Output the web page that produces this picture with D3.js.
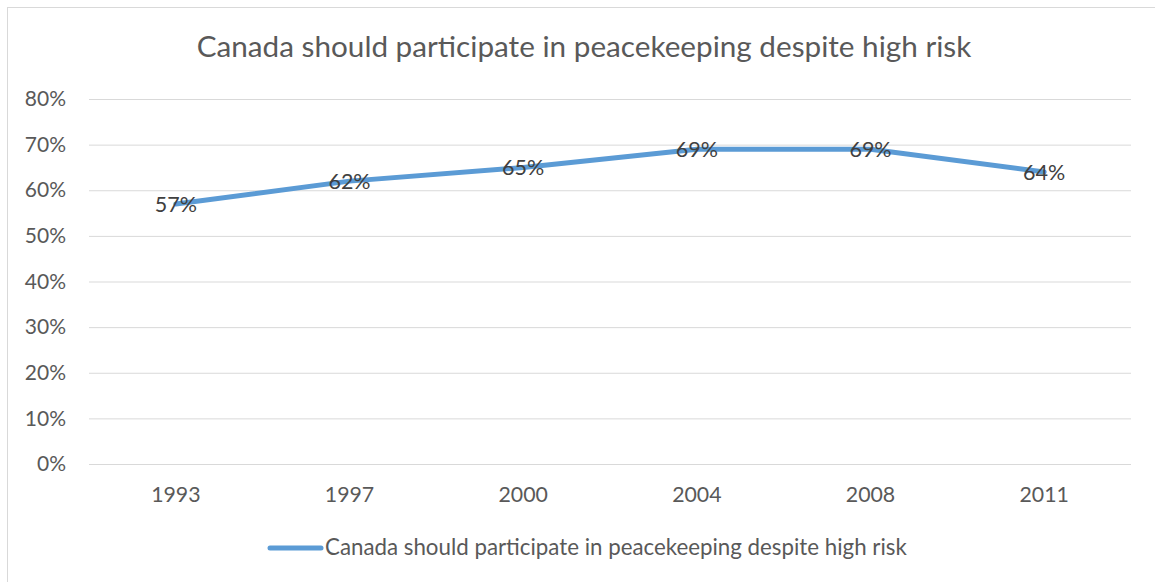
<!DOCTYPE html>
<html>
<head>
<meta charset="utf-8">
<script src="https://cdn.jsdelivr.net/npm/d3@7"></script>
<style>
  html, body { margin: 0; padding: 0; background: #fff; }
  svg { display: block; font-family: Lato, "Open Sans", sans-serif; }
</style>
</head>
<body>
<svg id="chart" width="1155" height="582"></svg>
<script>
// Survey years and share agreeing (%)
const years = ["1993", "1997", "2000", "2004", "2008", "2011"];
const support = [57, 62, 65, 69, 69, 64];
const yTicks = [0, 10, 20, 30, 40, 50, 60, 70, 80];
const chartTitle = "Canada should participate in peacekeeping despite high risk";
const seriesName = "Canada should participate in peacekeeping despite high risk";

const svg = d3.select("#chart");
const W = 1155, H = 582;
const plot = { left: 89, right: 1131, top: 99, bottom: 464 };
const lineColor = "#5B9BD5";
const fontFamily = "Lato, 'Open Sans', sans-serif";

// Chart area frame (left and top edges visible)
svg.append("rect")
  .attr("x", 7.5).attr("y", 7.5)
  .attr("width", W + 10).attr("height", H + 10)
  .attr("fill", "#fff").attr("stroke", "#d9d9d9").attr("stroke-width", 1);

const x = d3.scaleBand().domain(years).range([plot.left, plot.right]);
const y = d3.scaleLinear().domain([0, 80]).range([plot.bottom, plot.top]);

// Title
svg.append("text")
  .attr("x", 584).attr("y", 57)
  .attr("text-anchor", "middle")
  .attr("font-size", 29.7)
  .attr("fill", "#595959")
  .text(chartTitle);

// Horizontal gridlines and y labels
const yAxis = d3.axisLeft(y)
  .tickValues(yTicks)
  .tickSize(-(plot.right - plot.left))
  .tickPadding(23)
  .tickFormat(d => d + "%");
const gy = svg.append("g")
  .attr("transform", `translate(${plot.left},0)`)
  .call(yAxis);
gy.select(".domain").remove();
gy.selectAll(".tick line").attr("stroke", "#d9d9d9").attr("stroke-width", 1);
gy.selectAll(".tick text")
  .attr("font-size", 21).attr("fill", "#595959")
  .attr("font-family", fontFamily);

// Category labels
const xAxis = d3.axisBottom(x).tickSize(0).tickPadding(23);
const gx = svg.append("g")
  .attr("transform", `translate(0,${plot.bottom})`)
  .call(xAxis);
gx.select(".domain").remove();
gx.selectAll(".tick text")
  .attr("font-size", 21.3).attr("fill", "#595959")
  .attr("font-family", fontFamily);

// Series line
const pts = years.map((yr, i) => ({ yr, v: support[i] }));
const line = d3.line()
  .x(d => x(d.yr) + x.bandwidth() / 2)
  .y(d => y(d.v));
svg.append("path")
  .datum(pts)
  .attr("d", line)
  .attr("fill", "none")
  .attr("stroke", lineColor)
  .attr("stroke-width", 5)
  .attr("stroke-linejoin", "round")
  .attr("stroke-linecap", "round");

// Value labels centred on each point
svg.append("g").selectAll("text")
  .data(pts)
  .join("text")
  .attr("x", d => x(d.yr) + x.bandwidth() / 2)
  .attr("y", d => y(d.v) + 8)
  .attr("text-anchor", "middle")
  .attr("font-size", 21.5)
  .attr("fill", "#404040")
  .text(d => d.v + "%");

// Legend
const lg = svg.append("g");
lg.append("line")
  .attr("x1", 270).attr("x2", 321)
  .attr("y1", 548).attr("y2", 548)
  .attr("stroke", lineColor).attr("stroke-width", 5)
  .attr("stroke-linecap", "round");
lg.append("text")
  .attr("x", 325).attr("y", 555)
  .attr("font-size", 22.3)
  .attr("fill", "#595959")
  .text(seriesName);
</script>
</body>
</html>
